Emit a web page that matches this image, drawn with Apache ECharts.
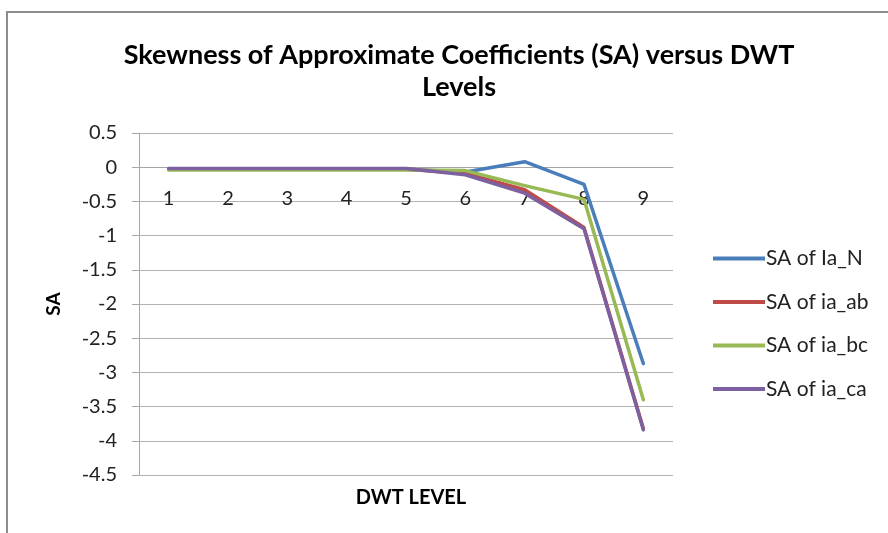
<!DOCTYPE html>
<html>
<head>
<meta charset="utf-8">
<script src="https://cdn.jsdelivr.net/npm/echarts@6/dist/echarts.min.js"></script>
<style>html,body{margin:0;padding:0;background:#fff;}#c{width:888px;height:533px;}</style>
</head>
<body>
<div id="c"></div>
<script>
const categories = ['1','2','3','4','5','6','7','8','9'];
const saIaN  = [-0.03, -0.03, -0.03, -0.03, -0.03, -0.07, 0.08, -0.25, -2.87];
const saIaAb = [-0.03, -0.03, -0.03, -0.03, -0.03, -0.09, -0.33, -0.88, -3.82];
const saIaBc = [-0.04, -0.04, -0.04, -0.04, -0.04, -0.05, -0.27, -0.47, -3.40];
const saIaCa = [-0.02, -0.02, -0.02, -0.02, -0.02, -0.11, -0.38, -0.90, -3.84];
const seriesNames = ['SA of Ia_N', 'SA of ia_ab', 'SA of ia_bc', 'SA of ia_ca'];
const seriesData = [saIaN, saIaAb, saIaBc, saIaCa];
const colors = ['#4A7EBB', '#BE4B48', '#98B954', '#7D60A0'];
const FONT = 'Lato, "Open Sans", sans-serif';

const chart = echarts.init(document.getElementById('c'), null, {renderer: 'canvas'});
chart.setOption({
  animation: false,
  color: colors,
  title: [{
    text: 'Skewness of Approximate Coefficients (SA) versus DWT\nLevels',
    left: 454, top: 34, textAlign: 'center',
    textStyle: {fontFamily: FONT, fontWeight: 'bold', fontSize: 27, lineHeight: 32, color: '#000'}
  }, {
    text: 'DWT LEVEL',
    left: 406, top: 483, textAlign: 'center',
    textStyle: {fontFamily: FONT, fontWeight: 'bold', fontSize: 20, color: '#000'}
  }],
  graphic: [{
    type: 'rect', shape: {x: 7, y: 12, width: 900, height: 540},
    style: {fill: 'none', stroke: '#8c8c8c', lineWidth: 2}, silent: true
  }],
  grid: {left: 139, right: 215, top: 133, bottom: 58, containLabel: false},
  legend: {
    orient: 'vertical', left: 708, top: 243, itemGap: 22.5,
    itemWidth: 52, itemHeight: 26,
    icon: 'path://M0,11 L52,11 L52,15 L0,15 Z',
    textStyle: {fontFamily: FONT, fontSize: 21, color: '#222', padding: [0,0,0,-4]},
    data: seriesNames.map((n, i) => ({name: n, itemStyle: {color: colors[i]}}))
  },
  xAxis: {
    type: 'category', data: categories, boundaryGap: true, position: 'top',
    axisLine: {onZero: false, lineStyle: {color: '#a6a6a6', width: 1}},
    axisTick: {show: false},
    axisLabel: {inside: true, fontFamily: FONT, fontSize: 20, color: '#222', margin: 21}
  },
  yAxis: {
    type: 'value', min: -4.5, max: 0.5, interval: 0.5,
    name: 'SA', nameLocation: 'middle', nameRotate: 90, nameGap: 76,
    nameTextStyle: {fontFamily: FONT, fontWeight: 'bold', fontSize: 19, color: '#000'},
    axisLine: {show: true, lineStyle: {color: '#a6a6a6'}},
    axisTick: {show: true, inside: false, length: 7, lineStyle: {color: '#a6a6a6'}},
    splitLine: {lineStyle: {color: '#b3b3b3', width: 1}},
    axisLabel: {fontFamily: FONT, fontSize: 20, color: '#222', margin: 22,
      formatter: v => String(Math.round(v * 10) / 10)}
  },
  series: seriesData.map((d, i) => ({
    name: seriesNames[i], type: 'line', data: d,
    symbol: 'none', smooth: false,
    lineStyle: {width: 3.5, color: colors[i], cap: 'round', join: 'round'},
    itemStyle: {color: colors[i]}
  }))
});
// Move the category axis to the y = 0 line, computed from the value axis scale.
const yZero = chart.convertToPixel({yAxisIndex: 0}, 0);
const yTop = chart.convertToPixel({yAxisIndex: 0}, 0.5);
chart.setOption({xAxis: {offset: -(yZero - yTop)}});
</script>
</body>
</html>
